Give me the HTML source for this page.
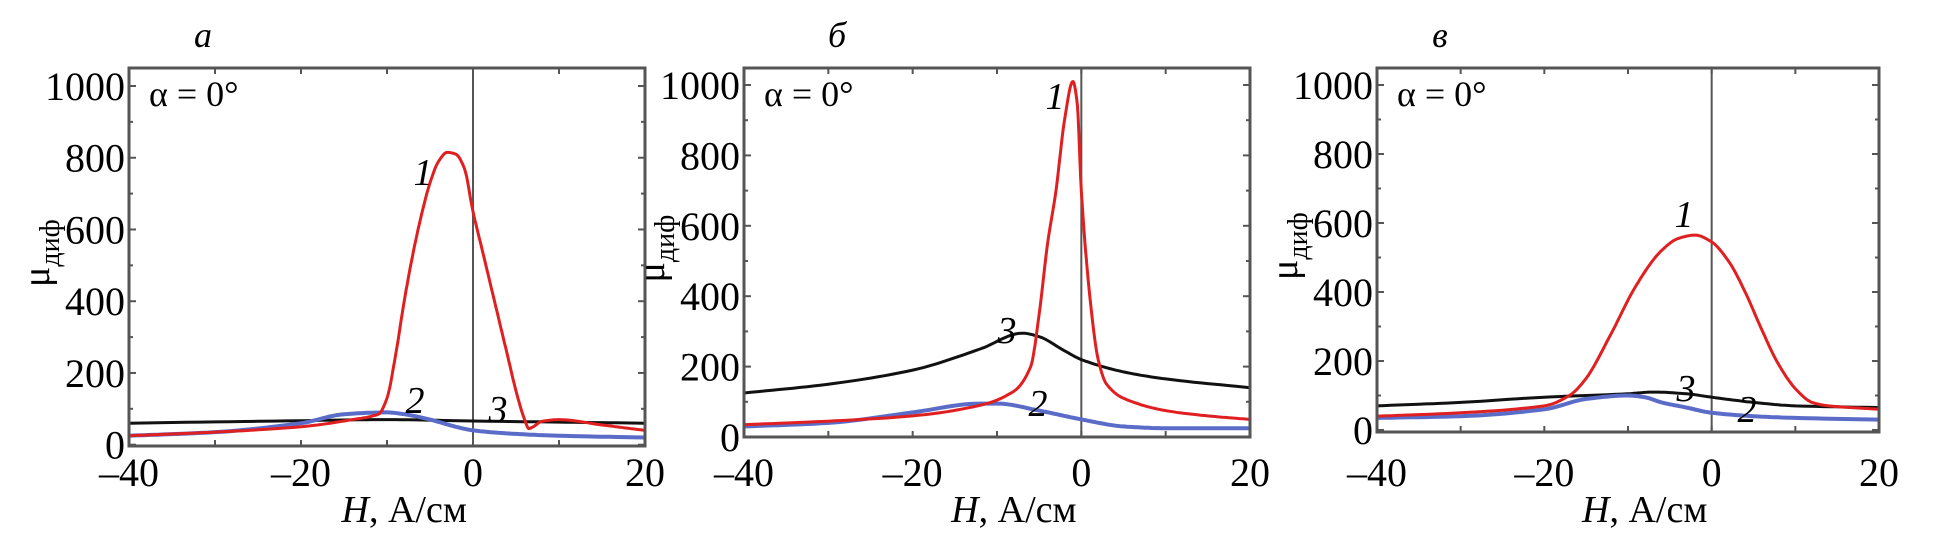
<!DOCTYPE html>
<html><head><meta charset="utf-8"><style>
html,body{margin:0;padding:0;background:#fff;}
svg{display:block;font-family:"Liberation Serif",serif;}
</style></head><body>
<svg id="chart" width="1934" height="551" viewBox="0 0 1934 551" xmlns="http://www.w3.org/2000/svg"></svg>
<script>
const xTicks=[-40,-20,0,20];
const yTicks=[0,200,400,600,800,1000];
const panelLetters=["а","б","в"];
// panel a
const aRedX=[-40,-30,-20,-14,-11,-10,-9,-8,-7,-6,-5,-4,-3,-2,-1,0,1,2,3,4,5,6,6.5,7,8,10,15,20];
const aRedY=[25,35,50,70,85,130,250,400,530,640,730,790,815,810,770,650,550,450,350,250,150,70,45,50,65,70,55,40];
const aBlueX=[-40,-30,-20,-15,-10,-8,-5,-2,0,5,10,20];
const aBlueY=[25,35,60,85,90,85,70,50,40,30,25,20];
const aBlackX=[-40,-20,-10,0,10,20];
const aBlackY=[60,67,70,66,63,60];
// panel b
const bRedX=[-40,-30,-20,-12,-8,-6,-5,-4,-3,-2,-1,-0.5,0,1,2,3,5,10,15,20];
const bRedY=[35,45,60,90,130,200,350,550,700,900,1010,950,700,400,220,150,110,75,60,50];
const bBlueX=[-40,-30,-20,-12,-10,-5,0,5,10,20];
const bBlueY=[30,40,70,95,95,75,50,30,25,25];
const bBlackX=[-40,-30,-20,-12,-7,-5,-2,0,5,10,20];
const bBlackY=[125,150,190,250,295,285,245,220,185,165,140];
// panel c
const cRedX=[-40,-30,-20,-17,-15,-12,-9,-6,-4,-2,0,2,4,6,8,10,12,14,20];
const cRedY=[40,50,70,100,150,280,420,520,555,565,545,490,400,290,190,120,80,70,60];
const cBlueX=[-40,-30,-20,-15,-10,-8,-6,-3,0,5,10,20];
const cBlueY=[35,40,60,90,100,95,80,65,50,40,35,30];
const cBlackX=[-40,-30,-20,-10,-7,-3,0,5,10,20];
const cBlackY=[70,80,95,105,110,105,95,80,70,65];

const NS="http://www.w3.org/2000/svg";
const svg=document.getElementById('chart');
function el(tag,attrs,parent,text){const e=document.createElementNS(NS,tag);for(const k in attrs)e.setAttribute(k,attrs[k]);if(text!==undefined)e.textContent=text;(parent||svg).appendChild(e);return e;}

const panels=[
 {L:129,R:645,T:68,B:446,y0:444.7,y1000:86,lx:203,labels:[[423,172,"1"],[415,400,"2"],[498,409,"3"]],
  red:[aRedX,aRedY],blue:[aBlueX,aBlueY],black:[aBlackX,aBlackY]},
 {L:744,R:1250,T:68,B:437,y0:437,y1000:85,lx:837,labels:[[1055,96,"1"],[1007,330,"3"],[1038,403,"2"]],
  red:[bRedX,bRedY],blue:[bBlueX,bBlueY],black:[bBlackX,bBlackY]},
 {L:1377,R:1879,T:68,B:432,y0:430,y1000:85,lx:1440,labels:[[1684,214,"1"],[1686,388,"3"],[1747,409,"2"]],
  red:[cRedX,cRedY],blue:[cBlueX,cBlueY],black:[cBlackX,cBlackY]}
];

// monotone cubic (Fritsch-Carlson) in data space, sampled
function pathFrom(xs,ys,sx,sy){
  const n=xs.length,d=[],m=[];
  for(let i=0;i<n-1;i++)d.push((ys[i+1]-ys[i])/(xs[i+1]-xs[i]));
  m[0]=d[0];m[n-1]=d[n-2];
  for(let i=1;i<n-1;i++){m[i]=(d[i-1]*d[i]<=0)?0:2/(1/d[i-1]+1/d[i]);}
  let s="M"+sx(xs[0]).toFixed(1)+","+sy(ys[0]).toFixed(1);
  for(let i=0;i<n-1;i++){
    const h=xs[i+1]-xs[i];
    for(let k=1;k<=12;k++){
      const t=k/12,t2=t*t,t3=t2*t;
      const y=(2*t3-3*t2+1)*ys[i]+(t3-2*t2+t)*h*m[i]+(-2*t3+3*t2)*ys[i+1]+(t3-t2)*h*m[i+1];
      s+=" L"+sx(xs[i]+t*h).toFixed(1)+","+sy(y).toFixed(1);
    }
  }
  return s;
}

panels.forEach((P,pi)=>{
  const g=el('g',{});
  
  
  const sx=x=>P.L+(x+40)/60*(P.R-P.L);
  const sy=y=>P.y0-(y/1000)*(P.y0-P.y1000);
  for(let v=-40;v<=20;v+=10){
    const t=el('line',{x1:sx(v),x2:sx(v),y1:P.B,y2:P.B-6,stroke:'#555','stroke-width':2},g);
    
    
    const t2=el('line',{x1:sx(v),x2:sx(v),y1:P.T,y2:P.T+6,stroke:'#555','stroke-width':2},g);
    
    
  }
  for(let v=0;v<=1000;v+=100){
    const len=v%200===0?7:4;
    const t=el('line',{x1:P.L,x2:P.L+len,y1:sy(v),y2:sy(v),stroke:'#555','stroke-width':2},g);
    
    
    const t2=el('line',{x1:P.R,x2:P.R-len,y1:sy(v),y2:sy(v),stroke:'#555','stroke-width':2},g);
    
    
  }
  const z=el('line',{x1:sx(0),x2:sx(0),y1:P.T,y2:P.B,stroke:'#555','stroke-width':2},g);
  
  
  [['black','#111','series-3'],['blue','#5a6cc8','series-2'],['red','#e02020','series-1']].forEach(s=>{
    const d=pathFrom(P[s[0]][0],P[s[0]][1],sx,sy);
    const p=el('path',{d:d,fill:'none',stroke:s[1],'stroke-width':s[0]==='blue'?4:3,'stroke-linejoin':'round'},g);
    
    
  });
  const f=el('rect',{x:P.L,y:P.T,width:P.R-P.L,height:P.B-P.T,fill:'none',stroke:'#555','stroke-width':3},g);
  
  
  yTicks.forEach(v=>{
    const t=el('text',{x:P.L-4,y:sy(v)+14,'text-anchor':'end','font-size':40,fill:'#000'},g,String(v));
    
    
  });
  xTicks.forEach(v=>{
    const t=el('text',{x:sx(v),y:486,'text-anchor':'middle','font-size':40,fill:'#000'},g,v<0?'\u2013'+Math.abs(v):String(v));
    
    
  });
  const xt=el('text',{x:sx(-8),y:522,'text-anchor':'middle','font-size':38,fill:'#000'},g);
  
  
  el('tspan',{'font-style':'italic'},xt,'H');
  el('tspan',{},xt,', А/см');
  const yt=el('text',{transform:`translate(${P.L-80},${(P.T+P.B)/2+30}) rotate(-90)`,'font-size':38,fill:'#000'},g);
  
  
  el('tspan',{},yt,'μ');
  el('tspan',{'font-size':28,dy:10},yt,'диф');
  const a=el('text',{x:P.L+20,y:106,'font-size':36,fill:'#000'},g,'α = 0°');
  
  
  const pl=el('text',{x:P.lx,y:47,'text-anchor':'middle','font-size':36,'font-style':'italic',fill:'#000'},g,panelLetters[pi]);
  
  
  P.labels.forEach(l=>{
    const t=el('text',{x:l[0],y:l[1]+13,'text-anchor':'middle','font-size':38,'font-style':'italic',fill:'#000'},g,l[2]);
    
    
  });
});
</script>
</body></html>
